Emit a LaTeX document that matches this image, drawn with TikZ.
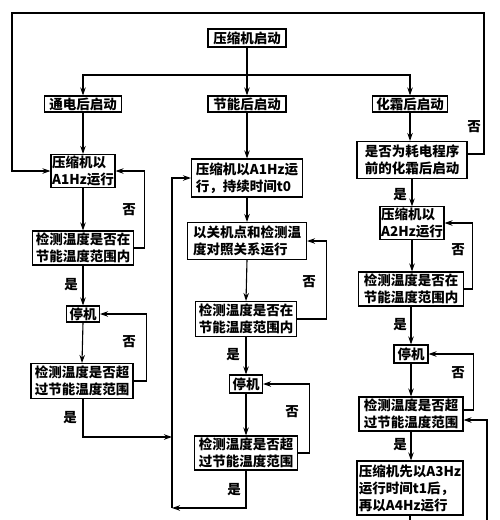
\documentclass[tikz,border=0pt]{standalone}
\usepackage{fontspec}
\newfontfamily\cjk{Noto Sans CJK SC}
\usetikzlibrary{arrows.meta}
\begin{document}
\begin{tikzpicture}[x=1pt,y=-1pt,
  box/.style={draw,line width=1.1pt,align=left,inner sep=1pt,font=\cjk\bfseries\fontsize{13.5}{17}\selectfont},
  lab/.style={font=\cjk\bfseries\fontsize{13.5}{15}\selectfont,inner sep=0pt},
  conn/.style={line width=1.1pt,-{Stealth[length=8pt,width=5.5pt]}},
  plain/.style={line width=1.1pt}]
\useasboundingbox (0,0) rectangle (500,520);
% nodes
\node[box,minimum width=78pt,minimum height=18pt] (top) at (247,38) {压缩机启动};
\node[box,minimum width=77pt,minimum height=16pt] (n1) at (83,104) {通电后启动};
\node[box,minimum width=78pt,minimum height=16pt] (n2) at (247,104) {节能后启动};
\node[box,minimum width=75pt,minimum height=16pt] (n3) at (410,104) {化霜后启动};
\node[box,minimum width=110pt,minimum height=37pt] (r0) at (412,160) {是否为耗电程序\\前的化霜后启动};
\node[box,minimum width=64pt,minimum height=33pt] (l1) at (83,171) {压缩机以\\A1Hz运行};
\node[box,minimum width=101pt,minimum height=34pt] (l2) at (83,248) {检测温度是否在\\节能温度范围内};
\node[box,minimum width=33pt,minimum height=16pt] (l3) at (83,314) {停机};
\node[box,minimum width=102pt,minimum height=35pt] (l4) at (82,381) {检测温度是否超\\过节能温度范围};
\node[box,minimum width=111pt,minimum height=38pt] (m1) at (247,178) {压缩机以A1Hz运\\行，持续时间t0};
\node[box,minimum width=119pt,minimum height=37pt] (m2) at (247,241) {以关机点和检测温\\度对照关系运行};
\node[box,minimum width=101pt,minimum height=35pt] (m3) at (246,319) {检测温度是否在\\节能温度范围内};
\node[box,minimum width=33pt,minimum height=18pt] (m4) at (246,384) {停机};
\node[box,minimum width=103pt,minimum height=34pt] (m5) at (246,453) {检测温度是否超\\过节能温度范围};
\node[box,minimum width=64pt,minimum height=32pt] (r1) at (412,223) {压缩机以\\A2Hz运行};
\node[box,minimum width=105pt,minimum height=34pt] (r2) at (411,289) {检测温度是否在\\节能温度范围内};
\node[box,minimum width=34pt,minimum height=18pt] (r3) at (411,354) {停机};
\node[box,minimum width=104pt,minimum height=34pt] (r4) at (411,414) {检测温度是否超\\过节能温度范围};
\node[box,minimum width=106pt,minimum height=54pt] (r5) at (410,488) {压缩机先以A3Hz\\运行时间t1后，\\再以A4Hz运行};
% coordinates
\coordinate (br) at (247,75);
\coordinate (tr) at (484,13);
\coordinate (tl) at (12,13);
\coordinate (lj) at (172,437);
\coordinate (lb) at (172,508);
\coordinate (bend) at (410,520);
\coordinate (bstart) at (487,520);
% top
\draw[conn] (top.south) -- (n2.north);
\draw[conn] (br) -| (n1.north);
\draw[conn] (br) -| (n3.north);
\draw[conn] ([yshift=6pt]r0.east) -| (tr) -- (tl) |- (l1.west);
\node[lab] at (474,127) {否};
% left column
\draw[conn] (n1.south) -- (l1.north);
\draw[conn] (l1.south) -- (l2.north);
\draw[conn] (l2.east) -- ++(10,0) |- (l1.east);
\node[lab] at (129,210) {否};
\draw[conn] (l2.south) -- (l3.north);
\node[lab] at (71,285) {是};
\draw[conn] (l3.south) -- (l4.north);
\draw[conn] (l4.east) -- ++(13,0) |- (l3.east);
\node[lab] at (129,342) {否};
\draw[conn] ([xshift=1pt]l4.south) |- (lj);
\node[lab] at (70,418) {是};
% middle column
\draw[conn] (n2.south) -- (m1.north);
\draw[conn] (lb) |- (m1.west);
\draw[conn] (m1.south) -- (m2.north);
\draw[conn] (m2.south) -- (m3.north);
\draw[conn] (m3.east) -- ++(29,0) |- (m2.east);
\node[lab] at (309,282) {否};
\draw[conn] (m3.south) -- (m4.north);
\node[lab] at (233,355) {是};
\draw[conn] (m4.south) -- (m5.north);
\draw[conn] (m5.east) -- ++(11,0) |- (m4.east);
\node[lab] at (292,412) {否};
\draw[conn] (m5.south) |- (lb);
\node[lab] at (234,490) {是};
% right column
\draw[conn] (n3.south) -- (n3.south |- r0.north);
\draw[conn] (r0.south) -- (r0.south |- r1.north);
\node[lab] at (400,195) {是};
\draw[conn] (r1.south) -- (r1.south |- r2.north);
\draw[conn] (r2.east) -- ++(8,0) |- (r1.east);
\node[lab] at (458,250) {否};
\draw[conn] (r2.south) -- (r3.north);
\node[lab] at (400,325) {是};
\draw[conn] (r3.south) -- (r4.north);
\draw[conn] ([yshift=4pt]r4.east) -- ++(10,0) |- (r3.east);
\node[lab] at (458,373) {否};
\draw[conn] (r4.south) -- (r4.south |- r5.north);
\node[lab] at (400,445) {是};
\draw[plain] (r5.south) -- (bend);
\draw[conn] (bstart) |- ([yshift=-6pt]r4.east);
\end{tikzpicture}
\end{document}
